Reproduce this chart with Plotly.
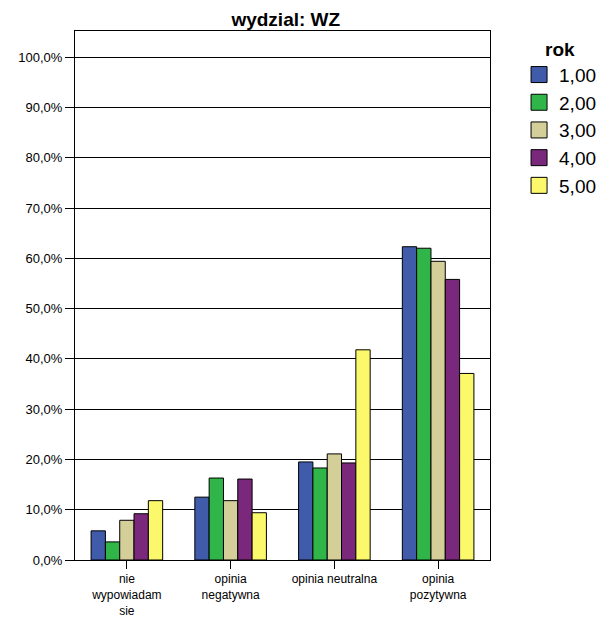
import plotly.graph_objects as go

# categories on the x axis
categories = ["nie<br>wypowiadam<br>sie", "opinia<br>negatywna", "opinia neutralna", "opinia<br>pozytywna"]

# percent per year of study (rok)
years = ["1,00", "2,00", "3,00", "4,00", "5,00"]
rok1 = [5.8, 12.5, 19.5, 62.3]
rok2 = [3.6, 16.3, 18.3, 62.0]
rok3 = [7.9, 11.8, 21.1, 59.4]
rok4 = [9.2, 16.1, 19.3, 55.8]
rok5 = [11.8, 9.4, 41.8, 37.1]
series = [rok1, rok2, rok3, rok4, rok5]
colors = ["#3F5BAA", "#30B648", "#D4CE98", "#7A287B", "#FBF86C"]

tick_vals = [0, 10, 20, 30, 40, 50, 60, 70, 80, 90, 100]
tick_text = ["0,0%", "10,0%", "20,0%", "30,0%", "40,0%", "50,0%",
             "60,0%", "70,0%", "80,0%", "90,0%", "100,0%"]

fig = go.Figure()
for name, vals, col in zip(years, series, colors):
    fig.add_trace(go.Bar(x=categories, y=vals, name=name, showlegend=False,
                         marker=dict(color=col, line=dict(color="black", width=1))))
# legend entries with bigger squares
for name, col in zip(years, colors):
    fig.add_trace(go.Scatter(x=[None], y=[None], mode="markers", name=name,
                             marker=dict(symbol="square", size=16, color=col,
                                         line=dict(color="black", width=1))))

# page body has an 8px margin, so the figure is a bit smaller than the window
fig.update_layout(
    width=600, height=610,
    font=dict(family="Liberation Sans, Arial, sans-serif", color="black", size=12),
    paper_bgcolor="white", plot_bgcolor="white",
    margin=dict(l=67, r=118, t=23, b=58, autoexpand=False),
    barmode="group", bargap=0.31, bargroupgap=0,
    title=dict(text="<b>wydzial: WZ</b>", x=0.463, xanchor="center", y=0.982, yanchor="middle",
               font=dict(size=19)),
    legend=dict(x=1.07, xanchor="left", y=1.0, yanchor="top",
                title=dict(text="<b>rok</b>", font=dict(size=19), side="top center"),
                font=dict(size=19), tracegroupgap=0, itemsizing="trace"),
)
fig.update_xaxes(showline=True, linecolor="black", linewidth=1, mirror=True,
                 ticks="outside", ticklen=8, tickcolor="black", showgrid=False,
                 automargin=False)
fig.update_yaxes(range=[0, 105.2], tickvals=tick_vals, ticktext=tick_text,
                 showline=True, linecolor="black", linewidth=1, mirror=True,
                 ticks="outside", ticklen=9, tickcolor="black",
                 showgrid=True, gridcolor="black", gridwidth=1, zeroline=False,
                 tickfont=dict(size=13), automargin=False)

fig.write_html("out.html")
